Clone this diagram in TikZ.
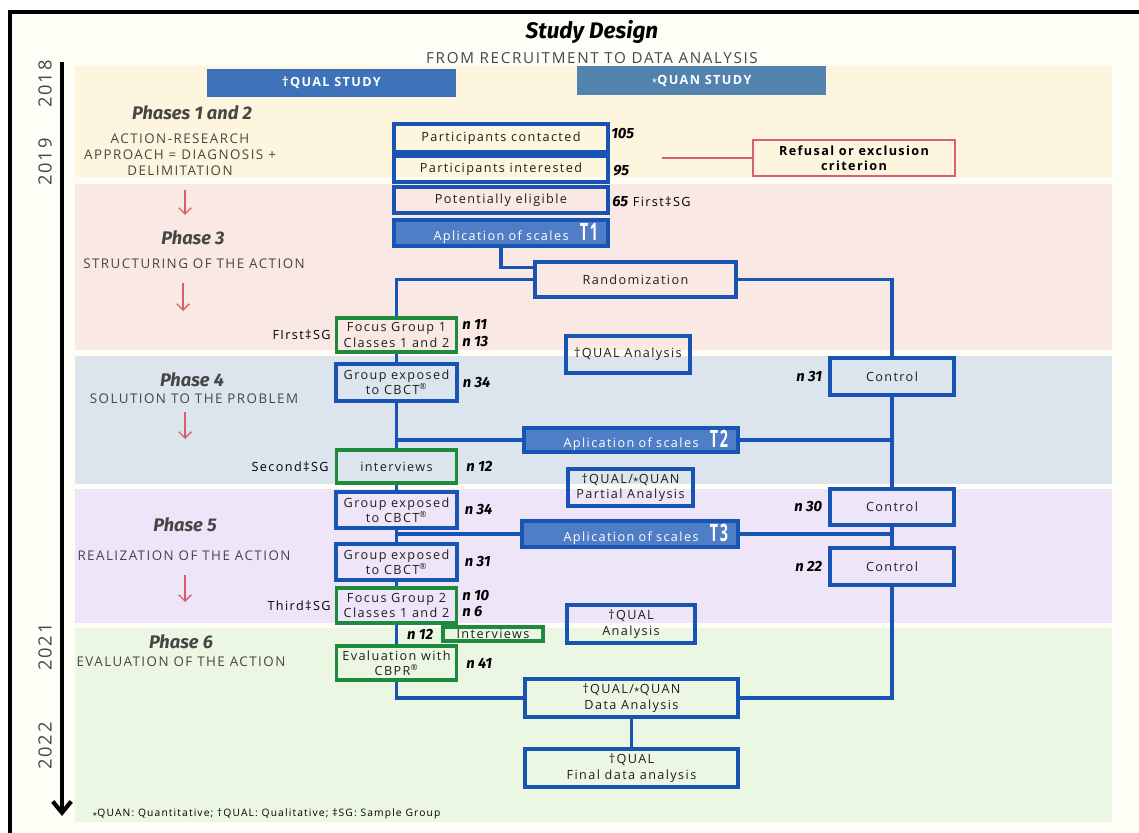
\documentclass[tikz,border=0pt]{standalone}
\usepackage{fontspec}
\setmainfont{Open Sans}[LetterSpace=11]
\newfontfamily\hand{Fira Sans}
\usetikzlibrary{arrows.meta}
\usetikzlibrary{positioning}

\definecolor{paper}{RGB}{254,254,247}
\definecolor{bandyellow}{RGB}{253,245,222}
\definecolor{bandpink}{RGB}{250,232,228}
\definecolor{bandblue}{RGB}{220,229,238}
\definecolor{bandlilac}{RGB}{238,230,248}
\definecolor{bandgreen}{RGB}{235,247,226}
\definecolor{lineblue}{RGB}{24,84,180}
\definecolor{scaleblue}{RGB}{80,126,198}
\definecolor{qualblue}{RGB}{62,114,185}
\definecolor{quanblue}{RGB}{82,130,174}
\definecolor{boxgreen}{RGB}{30,138,60}
\definecolor{refusalred}{RGB}{217,96,107}
\definecolor{txtdark}{RGB}{30,30,30}
\definecolor{descgray}{RGB}{70,70,70}

\newcommand{\qstar}{\raisebox{0.1ex}{\scalebox{0.9}{$\star$}}}
\newcommand{\Tmark}[1]{\scalebox{0.6}[1]{\fontsize{17}{17}\selectfont\bfseries #1}}
\newcommand{\nfont}{\hand\bfseries\itshape}

\begin{document}
\begin{tikzpicture}[x=0.025cm, y=-0.025cm,
    bw/.style={minimum width=#1*0.025cm},
    bh/.style={minimum height=#1*0.025cm},
    tw/.style={text width=#1*0.025cm},
    box/.style={draw=lineblue, line width=2.3pt, inner sep=0pt, align=center,
      text=txtdark, font=\fontsize{9}{11}\selectfont},
    greenbox/.style={draw=boxgreen},
    tbox/.style={fill=scaleblue, text=white, align=right, inner xsep=10*0.025cm,
      inner ysep=0pt},
    redbox/.style={draw=refusalred, line width=1.6pt, inner sep=0pt, align=center,
      font=\fontsize{9}{11}\selectfont\bfseries},
    studybar/.style={inner sep=0pt, text=white, bw=249,
      font=\fontsize{9}{11}\selectfont\bfseries},
    phase/.style={text=descgray, font=\nfont\fontsize{13}{13}\selectfont},
    phasedesc/.style={text=descgray, align=center, font=\fontsize{9.5}{11.5}\selectfont},
    nnum/.style={inner sep=0pt, font=\nfont\fontsize{10.5}{12}\selectfont},
    sglab/.style={inner sep=0pt, font=\fontsize{9}{11}\selectfont},
    year/.style={rotate=90, text=descgray, font=\fontsize{13}{13}\selectfont},
    link/.style={draw=lineblue, line width=2.3pt},
    redarrow/.style={draw=refusalred, line width=0.9pt, -{Straight Barb[length=1.6mm,width=3.2mm]}}]

  % page and bands
  \useasboundingbox (0,0) rectangle (1139,833);
  \fill[white] (0,0) rectangle (1139,833);
  \fill[paper] (10,12) rectangle (1139,833);
  \fill[bandyellow] (75,66) rectangle (1112,177);
  \fill[bandpink] (75,184) rectangle (1112,350);
  \fill[bandblue] (75,356) rectangle (1112,484);
  \fill[bandlilac] (75,489) rectangle (1112,623);
  \fill[bandgreen] (75,628) rectangle (1112,822);
  \draw[line width=2.5pt] (10,833) -- (10,12) -- (1139,12);

  % timeline
  \coordinate (tstart) at (62,62);
  \coordinate (tend) at (62,816);
  \draw[line width=3pt, -{Straight Barb[length=2.8mm,width=4.6mm]}] (tstart) -- (tend);
  \node[year] (y2018) at (45,84) {2018};
  \node[year] (y2019) at (45,162) {2019};
  \node[year] (y2021) at (45,647) {2021};
  \node[year] (y2022) at (45,746) {2022};

  % title
  \node[font=\nfont\fontsize{16}{16}\selectfont] (title) at (592,32) {Study Design};
  \node[text=descgray, font=\fontsize{10.8}{12}\selectfont] (subtitle) at (592,58) {FROM RECRUITMENT TO DATA ANALYSIS};
  \node[studybar, fill=qualblue, bh=28] (qualstudy) at (331.5,83) {†QUAL STUDY};
  \node[studybar, fill=quanblue, bh=29] (quanstudy) at (701.5,80.5) {\qstar QUAN STUDY};

  % phases
  \node[phase] (ph12) at (192,113) {Phases 1 and 2};
  \node[phasedesc] (d12) at (180,155) {ACTION-RESEARCH\\APPROACH = DIAGNOSIS +\\DELIMITATION};
  \node[phase] (ph3) at (193,238) {Phase 3};
  \node[phasedesc] (d3) at (194,264) {STRUCTURING OF THE ACTION};
  \node[phase] (ph4) at (192,380) {Phase 4};
  \node[phasedesc] (d4) at (194,399) {SOLUTION TO THE PROBLEM};
  \node[phase] (ph5) at (185,525) {Phase 5};
  \node[phasedesc] (d5) at (184,556) {REALIZATION OF THE ACTION};
  \node[phase] (ph6) at (181,642) {Phase 6};
  \node[phasedesc] (d6) at (181,662) {EVALUATION OF THE ACTION};
  \draw[redarrow] (185,190) -- (185,215);
  \draw[redarrow] (183,283) -- (183,311);
  \draw[redarrow] (185,412) -- (185,439);
  \draw[redarrow] (185,575) -- (185,602);

  % boxes
  \begin{scope}[every node/.style={box}]
    \node[bw=214, bh=28] (contacted) at (501,138) {Participants contacted};
    \node[bw=214, bh=26] (interested) at (501,169) {Participants interested};
    \node[bw=214, bh=26] (eligible) at (501,200) {Potentially eligible};
    \node[tbox, tw=194, bh=26] (scales1) at (501,233) {Aplication of scales\hspace{0.9em}\Tmark{T1}};
    \node[bw=201, bh=35] (rand) at (635.5,279.5) {Randomization};
    \node[greenbox, bw=120, bh=34] (fg1) at (396.5,335) {Focus Group 1\\Classes 1 and 2};
    \node[bw=124, bh=37] (qual1) at (628,354.5) {†QUAL Analysis};
    \node[bw=121, bh=37] (ge1) at (396.5,382.5) {Group exposed\\to CBCT\textsuperscript{®}};
    \node[bw=124, bh=37] (ctrl1) at (892,376.5) {Control};
    \node[tbox, tw=194, bh=24] (scales2) at (631,440) {Aplication of scales\hspace{0.9em}\Tmark{T2}};
    \node[greenbox, bw=120, bh=33] (intv1) at (396.5,466.5) {interviews};
    \node[bw=125, bh=37] (partial) at (630.5,487.5) {†QUAL/\qstar QUAN\\Partial Analysis};
    \node[bw=121, bh=36] (ge2) at (396.5,510) {Group exposed\\to CBCT\textsuperscript{®}};
    \node[bw=124, bh=36] (ctrl2) at (892,507) {Control};
    \node[tbox, tw=196, bh=26] (scales3) at (630,534) {Aplication of scales\hspace{0.9em}\Tmark{T3}};
    \node[bw=121, bh=36] (ge3) at (396.5,562) {Group exposed\\to CBCT\textsuperscript{®}};
    \node[bw=124, bh=37] (ctrl3) at (892,566.5) {Control};
    \node[greenbox, bw=120, bh=35] (fg2) at (396.5,605.5) {Focus Group 2\\Classes 1 and 2};
    \node[greenbox, bw=100, bh=14] (intv2) at (493,634) {Interviews};
    \node[bw=128, bh=38] (qual2) at (631,624) {†QUAL\\Analysis};
    \node[greenbox, bw=120, bh=34] (eval) at (396.5,663) {Evaluation with\\CBPR\textsuperscript{®}};
    \node[bw=213, bh=38] (data) at (631.5,698) {†QUAL/\qstar QUAN\\Data Analysis};
    \node[bw=213, bh=38] (final) at (631.5,768) {†QUAL\\Final data analysis};
  \end{scope}
  \node[redbox, bw=202, bh=36] (refusal) at (854,158) {Refusal or exclusion\\criterion};

  % sample sizes
  \node[nnum, anchor=west] (n105) at (611,134) {105};
  \node[nnum, anchor=west] (n95) at (613,171) {95};
  \node[sglab, anchor=west] (n65) at (612,202) {{\nfont\fontsize{10.5}{12}\selectfont 65} First‡SG};
  \node[nnum, anchor=west] (n11) at (462,325) {n 11};
  \node[nnum, anchor=west] (n13) at (462,342) {n 13};
  \node[nnum, right=0.1cm of ge1] (nge1) {n 34};
  \node[nnum, right=0.2cm of intv1] (nintv1) {n 12};
  \node[nnum, right=0.15cm of ge2] (nge2) {n 34};
  \node[nnum, right=0.15cm of ge3] (nge3) {n 31};
  \node[nnum, anchor=west] (n10) at (462,596) {n 10};
  \node[nnum, anchor=west] (n6) at (462,612) {n 6};
  \node[nnum, left=0.2cm of intv2] (nintv2) {n 12};
  \node[nnum, right=0.2cm of eval] (neval) {n 41};
  \node[nnum, left=0.15cm of ctrl1] (nctrl1) {n 31};
  \node[nnum, left=0.15cm of ctrl2] (nctrl2) {n 30};
  \node[nnum, left=0.15cm of ctrl3] (nctrl3) {n 22};
  \node[sglab, left=0.1cm of fg1] (sg1) {FIrst‡SG};
  \node[sglab, left=0.15cm of intv1] (sg2) {Second‡SG};
  \node[sglab, left=0.1cm of fg2] (sg3) {Third‡SG};

  \node[anchor=west, inner sep=0pt, font=\fontsize{7.3}{8}\selectfont] (note) at (92,814)
    {\qstar QUAN: Quantitative; †QUAL: Qualitative; ‡SG: Sample Group};

  % connectors
  \draw[link] (scales1.south) |- ([yshift=0.3cm]rand.west);
  \draw[link] (rand.west) -| (fg1.north);
  \draw[link] (rand.east) -| (ctrl1.north);
  \draw[link] (fg1.south) -- (ge1.north);
  \draw[link] (ge1.south) -- (intv1.north);
  \draw[link] (scales2.west) -- (scales2.west -| ge1.south);
  \draw[link] (scales2.east) -- (scales2.east -| ctrl1.south);
  \draw[link] (ctrl1.south) -- (ctrl2.north);
  \draw[link] (intv1.south) -- (ge2.north);
  \draw[link] (ge2.south) -- (ge3.north);
  \draw[link] (scales3.west) -- (scales3.west -| ge2.south);
  \draw[link] (scales3.east) -- (scales3.east -| ctrl2.south);
  \draw[link] (ctrl2.south) -- (ctrl3.north);
  \draw[link] (ge3.south) -- (fg2.north);
  \draw[link] (fg2.south) -- (eval.north);
  \draw[link] (eval.south) |- (data.west);
  \draw[link] (ctrl3.south) |- (data.east);
  \draw[link] (data.south) -- (final.north);
  \coordinate (refstart) at (662,158);
  \draw[draw=refusalred, line width=1.6pt] (refstart) -- (refusal.west);
\end{tikzpicture}
\end{document}
